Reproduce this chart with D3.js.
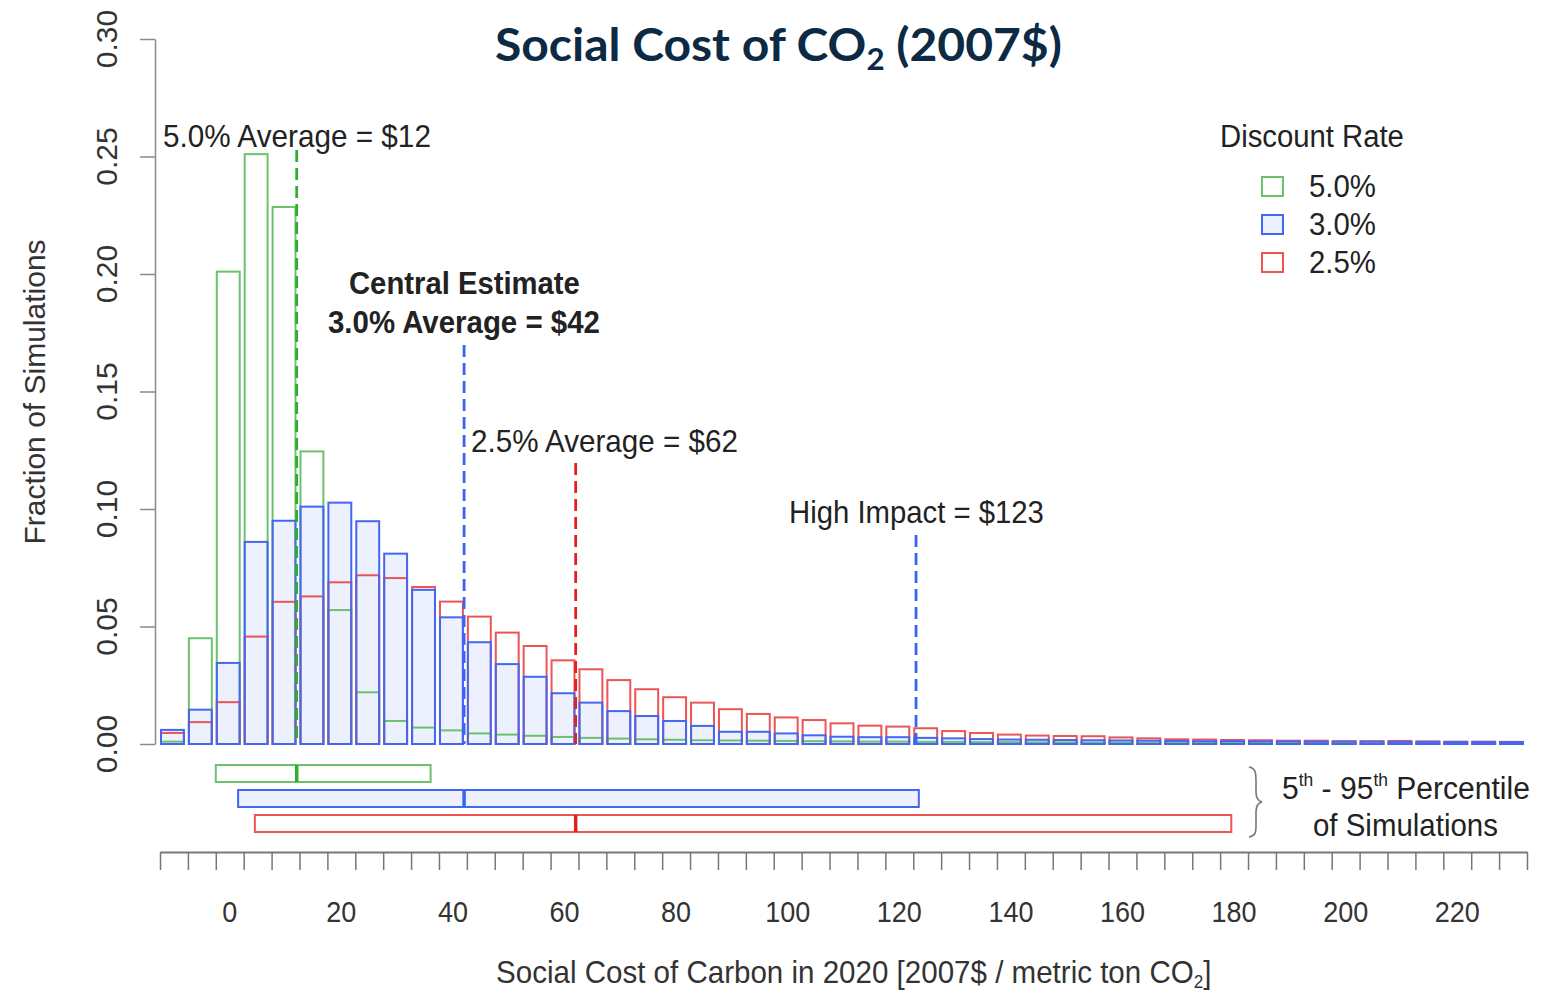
<!DOCTYPE html>
<html><head><meta charset="utf-8">
<script src="https://cdn.jsdelivr.net/npm/d3@7"></script>
<style>
body{margin:0;background:#fff;}
svg{display:block;}
text{font-family:"Liberation Sans",Arial,sans-serif;fill:#222;}
</style>
</head><body>
<svg id="c" width="1554" height="995"></svg>
<script>
// ---------- DATA ----------
const binCenters = [-10,-5,0,5,10,15,20,25,30,35,40,45,50,55,60,65,70,75,80,85,90,95,100,105,110,115,120,125,130,135,140,145,150,155,160,165,170,175,180,185,190,195,200,205,210,215,220,225,230];
const frac5 = [0.001,0.045,0.201,0.251,0.2285,0.1245,0.057,0.022,0.0098,0.007,0.0058,0.0045,0.004,0.0035,0.003,0.0026,0.0023,0.002,0.0018,0.0016,0.0015,0.0014,0.0013,0.0012,0.0011,0.001,0.001,0.0009,0.0009,0.0008,0.0008,0.0007,0.0007,0.0006,0.0006,0.0005,0.0005,0.0005,0.0004,0.0004,0.0004,0.0004,0.0003,0.0003,0.0003,0.0003,0.0003,0.0002,0.0002];
const frac3 = [0.006,0.0146,0.0345,0.086,0.095,0.101,0.1027,0.0948,0.081,0.0656,0.0539,0.0433,0.034,0.0286,0.0216,0.0176,0.014,0.0119,0.0098,0.0077,0.0052,0.0052,0.0045,0.0037,0.0031,0.0029,0.0029,0.0026,0.0024,0.0021,0.0019,0.0018,0.0017,0.0016,0.0015,0.0014,0.0013,0.0012,0.0012,0.0011,0.0011,0.001,0.001,0.001,0.0009,0.0009,0.0008,0.0008,0.0008];
const frac25 = [0.0047,0.0093,0.0178,0.0457,0.0605,0.0628,0.0688,0.0718,0.0706,0.0668,0.0606,0.0542,0.0474,0.0417,0.0356,0.0318,0.0272,0.0233,0.0199,0.0176,0.0148,0.0128,0.0113,0.0102,0.0088,0.0078,0.0074,0.0067,0.0055,0.0047,0.004,0.0036,0.0034,0.0033,0.0028,0.0024,0.002,0.0019,0.0017,0.0016,0.0014,0.0014,0.0012,0.0012,0.0013,0.0011,0.001,0.001,0.0009];

const rates = ["5.0%","3.0%","2.5%"];
const averages = [12, 42, 62];
const pct5 = [-2.5, 1.5, 4.5];
const pct95 = [36, 123.5, 179.5];
const highImpact = 123;

const yTicks = [0,0.05,0.10,0.15,0.20,0.25,0.30];
const xLabelValues = [0,20,40,60,80,100,120,140,160,180,200,220];
const binWidth = 5;

// ---------- STYLE ----------
const colGreen = "#6cc26c", colBlue = "#4466f2", colRed = "#ec5555", fillBlue = "#edf0fd";
const dashGreen = "#2fae2f", dashBlue = "#3a62f5", dashRed = "#e32020";

const svg = d3.select("#c");
const x = d3.scaleLinear().domain([-12.5, 232.5]).range([160, 1527]);
const y = d3.scaleLinear().domain([0, 0.30]).range([744, 39]);

function addText(g, px, py, parts, opt) {
  opt = opt || {};
  const t = g.append("text")
    .attr("font-size", opt.size || 31)
    .attr("font-weight", opt.weight || "normal")
    .attr("text-anchor", opt.anchor || "start")
    .style("font-family", opt.family || null)
    .style("fill", opt.color || null);
  if (typeof parts === "string") parts = [{t: parts}];
  parts.forEach(p => {
    const ts = t.append("tspan").text(p.t);
    if (p.size) ts.attr("font-size", p.size);
    if (p.dy) ts.attr("dy", p.dy);
  });
  let sx = opt.sx || 1;
  if (opt.width) sx = opt.width / t.node().getComputedTextLength();
  const rot = opt.rotate ? ` rotate(${opt.rotate})` : "";
  t.attr("transform", `translate(${px},${py})${rot} scale(${sx},1)`);
  return t;
}

const barX = c => x(c - binWidth/2) + 1;
const barW = c => x(c + binWidth/2) - x(c - binWidth/2) - 5;

// blue fill
svg.append("g").selectAll("rect").data(binCenters.map((c,i)=>({c, v: frac3[i]}))).join("rect")
  .attr("x", d => barX(d.c)).attr("width", d => barW(d.c))
  .attr("y", d => y(d.v)).attr("height", d => y(0) - y(d.v))
  .attr("fill", fillBlue);

function outline(vals, color) {
  svg.append("g").selectAll("rect").data(binCenters.map((c,i)=>({c, v: vals[i]}))).join("rect")
    .attr("x", d => barX(d.c)).attr("width", d => barW(d.c))
    .attr("y", d => y(d.v)).attr("height", d => Math.max(0.5, y(0) - y(d.v)))
    .attr("fill", "none").attr("stroke", color).attr("stroke-width", 2);
}
outline(frac5, colGreen);
outline(frac25, colRed);
outline(frac3, colBlue);

// dashed average lines
const dashData = [
  {v: averages[0], top: 150, c: dashGreen},
  {v: averages[1], top: 345, c: dashBlue},
  {v: averages[2], top: 463, c: dashRed},
  {v: highImpact, top: 535, c: dashBlue}
];
svg.append("g").selectAll("line").data(dashData).join("line")
  .attr("x1", d => x(d.v)).attr("x2", d => x(d.v))
  .attr("y1", d => d.top).attr("y2", y(0))
  .attr("stroke", d => d.c).attr("stroke-width", 2.8)
  .attr("stroke-dasharray", "12,6");

// y axis
const yAx = svg.append("g").attr("transform", "translate(155,0)")
  .call(d3.axisLeft(y).tickValues(yTicks).tickFormat(d3.format(".2f")).tickSize(15).tickSizeOuter(0));
yAx.select(".domain").attr("stroke", "#8a8a8a").attr("stroke-width", 1.5);
yAx.selectAll(".tick line").attr("stroke", "#8a8a8a").attr("stroke-width", 1.5);
yAx.selectAll(".tick text").remove();
yTicks.forEach(v => {
  addText(svg, 117, y(v), d3.format(".2f")(v), {anchor: "middle", rotate: -90, size: 30, color: "#333"});
});

// x axis
const edges = binCenters.map(c => c - binWidth/2).concat([binCenters[binCenters.length-1] + binWidth/2]);
const xAx = svg.append("g").attr("transform", "translate(0,852)")
  .call(d3.axisBottom(x).tickValues(edges).tickFormat("").tickSize(18).tickSizeOuter(0));
xAx.select(".domain").attr("stroke", "#777").attr("stroke-width", 1.8);
xAx.selectAll(".tick line").attr("stroke", "#777").attr("stroke-width", 1.5);
xLabelValues.forEach(v => addText(svg, x(v), 922, String(v), {anchor: "middle", size: 30, sx: 0.9, color: "#333"}));

// percentile boxes
const boxY = [765, 790, 815], boxH = 17;
const boxStroke = [colGreen, colBlue, colRed];
const boxFill = ["#fff", fillBlue, "#fff"];
const markCol = [dashGreen, dashBlue, dashRed];
rates.forEach((r, i) => {
  svg.append("rect").attr("x", x(pct5[i])).attr("y", boxY[i])
    .attr("width", x(pct95[i]) - x(pct5[i])).attr("height", boxH)
    .attr("fill", boxFill[i]).attr("stroke", boxStroke[i]).attr("stroke-width", 2);
  svg.append("line").attr("x1", x(averages[i])).attr("x2", x(averages[i]))
    .attr("y1", boxY[i]).attr("y2", boxY[i] + boxH)
    .attr("stroke", markCol[i]).attr("stroke-width", 3.5);
});

// brace
svg.append("path")
  .attr("d", "M1249,767 C1256,768 1256,774 1256,782 L1256,792 C1256,798 1258,801 1262,802 C1258,803 1256,806 1256,812 L1256,826 C1256,833 1255,836 1249,837")
  .attr("fill", "none").attr("stroke", "#777").attr("stroke-width", 1.6);
addText(svg, 1282, 799, [{t:"5"},{t:"th", size: 18, dy: -13},{t:" - 95", dy: 13},{t:"th", size: 18, dy: -13},{t:" Percentile", dy: 13}], {width: 248});
addText(svg, 1313, 836, "of Simulations", {width: 185});

// annotations
addText(svg, 163, 147, "5.0% Average = $12", {width: 268});
addText(svg, 349, 294, "Central Estimate", {weight: "bold", width: 231});
addText(svg, 328, 333, "3.0% Average = $42", {weight: "bold", width: 272});
addText(svg, 471, 452, "2.5% Average = $62", {width: 267});
addText(svg, 789, 523, "High Impact = $123", {width: 255});

// legend
addText(svg, 1220, 147, "Discount Rate", {width: 184});
const legY = [177, 215, 253];
const legFill = ["#fff", fillBlue, "#fff"];
rates.forEach((r, i) => {
  svg.append("rect").attr("x", 1262).attr("y", legY[i]).attr("width", 21).attr("height", 19)
    .attr("fill", legFill[i]).attr("stroke", boxStroke[i]).attr("stroke-width", 2);
  addText(svg, 1309, legY[i] + 20, r, {width: 67});
});

// axis titles
addText(svg, 45, 392, "Fraction of Simulations", {anchor: "middle", rotate: -90, size: 30, color: "#333"});
addText(svg, 496, 983, [{t: "Social Cost of Carbon in 2020 [2007$ / metric ton CO"},{t:"2", size: 18, dy: 5},{t:"]", dy: -5}], {width: 716, color: "#333"});

// title
addText(svg, 495, 61, [{t: "Social Cost of CO"},{t: "2", size: 30, dy: 9},{t: " (2007$)", dy: -9}],
  {weight: "bold", size: 46, family: "Lato, 'Open Sans', sans-serif", color: "#0c2a43", width: 567});
</script>
</body></html>
